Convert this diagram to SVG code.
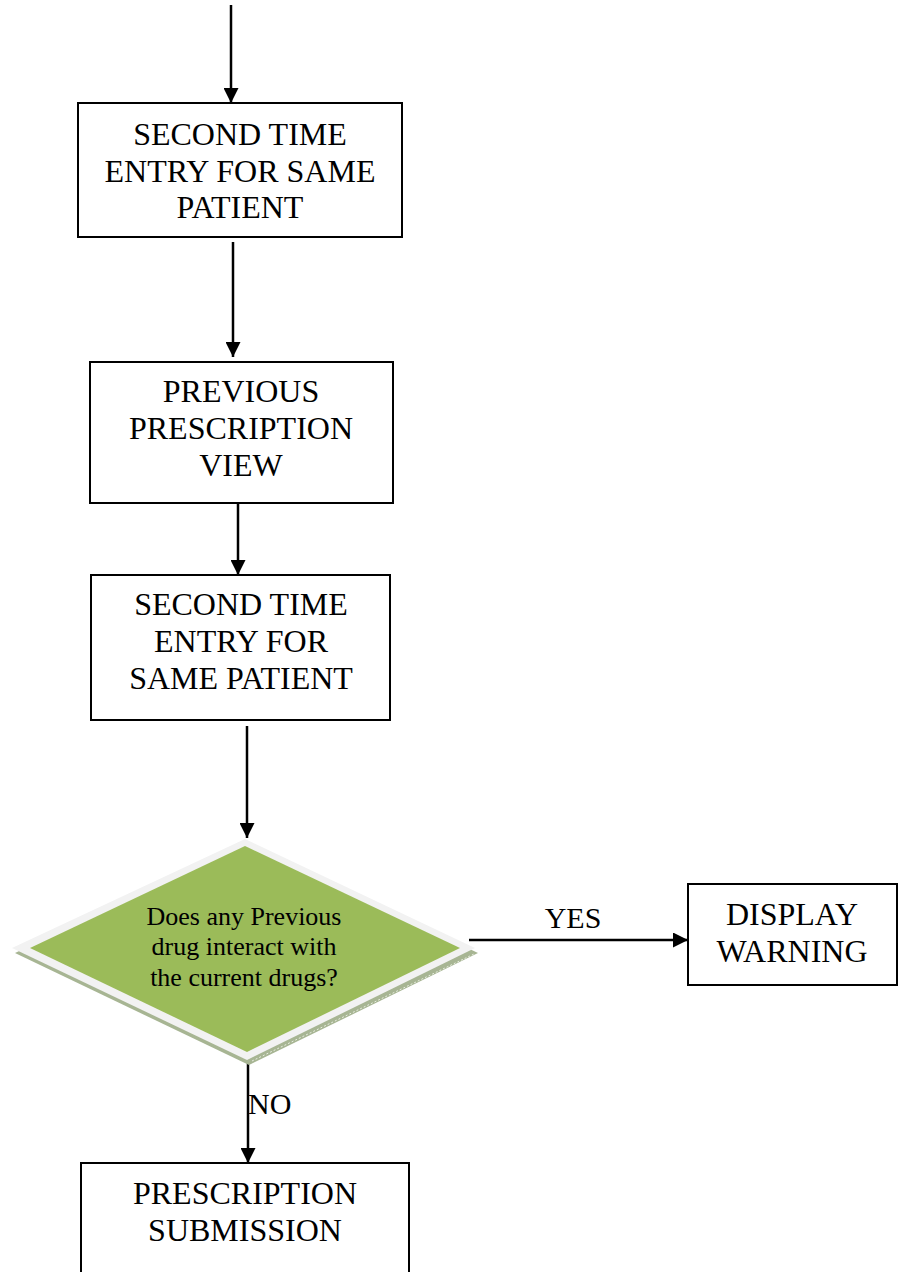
<svg xmlns="http://www.w3.org/2000/svg" width="898" height="1272" viewBox="0 0 898 1272">
<defs>
<style>
.box{fill:#fff;stroke:#000;stroke-width:2}
.t{font-family:"Liberation Serif","Times New Roman",serif;font-size:32px;fill:#000;text-anchor:middle}
.d{font-family:"Liberation Serif","Times New Roman",serif;font-size:26px;fill:#000;text-anchor:middle}
.c{stroke:#000;stroke-width:2.5;fill:none;marker-end:url(#ah)}
</style>
<marker id="ah" markerWidth="6" markerHeight="6" refX="6" refY="3" orient="auto" markerUnits="strokeWidth">
<path d="M0,0 L6,3 L0,6 Z" fill="#000"/>
</marker>
</defs>
<rect width="898" height="1272" fill="#fff"/>
<g id="connectors">
<line class="c" x1="231" y1="5" x2="231" y2="103"/>
<line class="c" x1="233" y1="242" x2="233" y2="357"/>
<line class="c" x1="238" y1="504" x2="238" y2="575"/>
<line class="c" x1="247" y1="726" x2="247" y2="838"/>
<line class="c" x1="469" y1="940" x2="688" y2="940"/>
<line class="c" x1="248" y1="1053" x2="248" y2="1163"/>
</g>
<g id="n1">
<rect class="box" x="78" y="103" width="324" height="134"/>
<text class="t" x="240" y="145">SECOND TIME</text>
<text class="t" x="240" y="182">ENTRY FOR SAME</text>
<text class="t" x="240" y="218">PATIENT</text>
</g>
<g id="n2">
<rect class="box" x="90" y="362" width="303" height="141"/>
<text class="t" x="241" y="402">PREVIOUS</text>
<text class="t" x="241" y="439">PRESCRIPTION</text>
<text class="t" x="241" y="476">VIEW</text>
</g>
<g id="n3">
<rect class="box" x="91" y="575" width="299" height="145"/>
<text class="t" x="241" y="615">SECOND TIME</text>
<text class="t" x="241" y="652">ENTRY FOR</text>
<text class="t" x="241" y="689">SAME PATIENT</text>
</g>
<g id="decision">
<polygon points="246,843 478,953 249,1065 15,953" fill="#a7b593"/>
<polygon points="245,839 475,948 247,1060 12,948" fill="#f2f2f2"/>
<polygon points="245,846 460,948 247,1052 30,948" fill="#9bbb59"/>
<line x1="252" y1="1061" x2="474" y2="954" stroke="#e8eee0" stroke-width="1" stroke-dasharray="2,2"/>
<text class="d" x="244" y="925">Does any Previous</text>
<text class="d" x="244" y="955">drug interact with</text>
<text class="d" x="244" y="986">the current drugs?</text>
</g>
<g id="n4">
<rect class="box" x="688" y="884" width="209" height="101"/>
<text class="t" x="792" y="925">DISPLAY</text>
<text class="t" x="792" y="962">WARNING</text>
</g>
<g id="n5">
<rect class="box" x="81" y="1163" width="328" height="120"/>
<text class="t" x="245" y="1204">PRESCRIPTION</text>
<text class="t" x="245" y="1241">SUBMISSION</text>
</g>
<g id="labels">
<text class="t" x="573" y="928" style="font-size:30px">YES</text>
<text class="t" x="248" y="1114" style="font-size:30px;text-anchor:start">NO</text>
</g>
</svg>
